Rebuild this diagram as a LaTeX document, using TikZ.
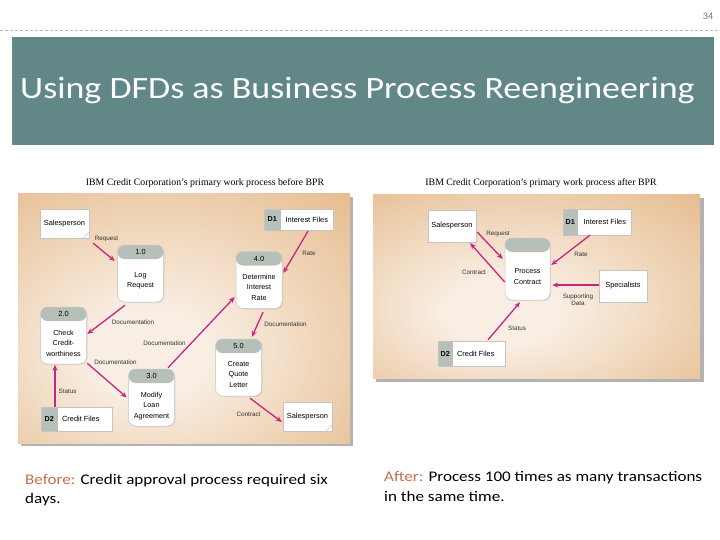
\documentclass[tikz,border=0pt]{standalone}
\usepackage{fontspec}
\setmainfont{Liberation Sans}
\newfontfamily\calib{Carlito}
\newfontfamily\serifcap{Liberation Serif}
\usetikzlibrary{arrows.meta,calc,shadows}
\definecolor{titlebg}{HTML}{618887}
\definecolor{flowc}{HTML}{C8267E}
\definecolor{hdr}{HTML}{B7C0B8}
\definecolor{pnlin}{HTML}{F9EEE3}
\definecolor{pnlout}{HTML}{E6BD90}
\definecolor{accent}{HTML}{C5704F}
\definecolor{dashc}{HTML}{A9BCC6}
\definecolor{edge}{HTML}{C4C4C4}
\pgfdeclareradialshading{panelshade}{\pgfpoint{-6bp}{-8bp}}{color(0bp)=(pnlin); color(9bp)=(pnlin); color(40bp)=(pnlout); color(75bp)=(pnlout)}
\tikzset{
  proc/.style={draw=edge, line width=0.5pt, fill=white, rounded corners=7pt,
    minimum width=46pt, minimum height=57pt, inner sep=0pt,
    drop shadow={opacity=0.18, shadow xshift=1pt, shadow yshift=-1pt},
    path picture={\fill[hdr] ([yshift=1pt]path picture bounding box.north west) rectangle ([yshift=-14pt]path picture bounding box.north east);}},
  entity/.style={draw=edge, line width=0.4pt, fill=white, minimum width=49pt, minimum height=29pt, inner sep=0pt,
    font=\fontsize{7.4}{8}\selectfont},
  store/.style={draw=edge, line width=0.4pt, fill=white, inner sep=0pt,
    path picture={\fill[hdr] (path picture bounding box.north west) rectangle ([xshift=#1]path picture bounding box.south west);}},
  storeid/.style={font=\bfseries\fontsize{7.2}{8}\selectfont, inner sep=0pt},
  storetxt/.style={font=\fontsize{7.4}{8}\selectfont, inner sep=0pt},
  hdrtxt/.style={font=\fontsize{7.4}{8}\selectfont, inner sep=0pt},
  bodytxt/.style={font=\fontsize{7.2}{10.5}\selectfont, align=center, inner sep=0pt},
  lbl/.style={font=\fontsize{6.3}{7.5}\selectfont, text=black!80, inner sep=0pt, align=center},
  flow/.style={draw=flowc, line width=1.3pt, -{Stealth[length=6pt,width=5pt]}},
  fold/.style={draw=black!30, line width=0.4pt},
  capt/.style={font=\calib\fontsize{14.7}{16}\selectfont, anchor=base west, inner sep=0pt},
  dcap/.style={font=\serifcap\fontsize{9.8}{11}\selectfont}
}
\begin{document}
\begin{tikzpicture}[x=1pt,y=-1pt]
\useasboundingbox (0,0) rectangle (720,540);
\fill[white] (0,0) rectangle (720,540);
% header
\node[font=\calib\fontsize{10}{12}\selectfont, text=black!55] (pg) at (708,16) {34};
\draw[dashc, line width=0.8pt, dash pattern=on 3pt off 2pt] (0,30) -- (720,30);
\fill[titlebg] (12,37) rectangle (714,145);
\node[anchor=base west, text=white, font=\calib\fontsize{31}{36}\selectfont, inner sep=0pt] (title) at (20,99) {\scalebox{1.16}[1]{Using DFDs as Business Process Reengineering}};

% ===== left panel =====
\node[dcap] (capb) at (205,183) {IBM Credit Corporation’s primary work process before BPR};
\fill[black!30] (21,197) rectangle (353,446);
\shade[shading=panelshade] (18,194) rectangle (350,443);

\node[entity] (s1) at (64.5,223.5) {Salesperson};
\draw[fold] ($(s1.south east)+(-6,0)$) -- ($(s1.south east)+(0,-6)$);
\node[store=17pt, minimum width=69pt, minimum height=21pt] (d1) at (298.5,219.5) {};
\node[storeid] (d1id) at ($(d1.west)+(8.5,0)$) {D1};
\node[storetxt] (d1t) at ($(d1.west)+(43,0)$) {Interest Files};

\node[proc] (p1) at (140.5,273.5) {};
\node[hdrtxt] (p1h) at ($(p1.north)+(0,7.5)$) {1.0};
\node[bodytxt] (p1b) at ($(p1.center)+(0,7.5)$) {Log\\Request};

\node[proc] (p4) at (259,280) {};
\node[hdrtxt] (p4h) at ($(p4.north)+(0,7.5)$) {4.0};
\node[bodytxt] (p4b) at ($(p4.center)+(0,7)$) {Determine\\Interest\\Rate};

\node[proc] (p2) at (63.5,335.5) {};
\node[hdrtxt] (p2h) at ($(p2.north)+(0,7.5)$) {2.0};
\node[bodytxt] (p2b) at ($(p2.center)+(0,7.5)$) {Check\\Credit-\\worthiness};

\node[proc] (p3) at (151.5,397.5) {};
\node[hdrtxt] (p3h) at ($(p3.north)+(0,7.5)$) {3.0};
\node[bodytxt] (p3b) at ($(p3.center)+(0,8.5)$) {Modify\\Loan\\Agreement};

\node[proc] (p5) at (238.5,367.5) {};
\node[hdrtxt] (p5h) at ($(p5.north)+(0,7.5)$) {5.0};
\node[bodytxt] (p5b) at ($(p5.center)+(0,7)$) {Create\\Quote\\Letter};

\node[entity] (s2) at (307.5,416.5) {Salesperson};
\draw[fold] ($(s2.south east)+(-6,0)$) -- ($(s2.south east)+(0,-6)$);
\node[store=17pt, minimum width=71pt, minimum height=24pt] (d2) at (76.5,419) {};
\node[storeid] (d2id) at ($(d2.west)+(8.5,0)$) {D2};
\node[storetxt] (d2t) at ($(d2.west)+(40,0)$) {Credit Files};

% left flows
\draw[flow] ($(s1.south east)+(4,5)$) -- ($(p1.west)+(-2.5,-12.5)$);
\node[lbl] (l1) at (106.5,239) {Request};
\draw[flow] ($(d1.south)+(9.5,1)$) -- ($(p4.east)+(1,-7)$);
\node[lbl] (l2) at (309,253) {Rate};
\draw[flow] ($(p1.south)+(-15.5,3)$) -- ($(p2.east)+(0.5,-1.5)$);
\node[lbl] (l3) at (133,322) {Documentation};
\draw[flow] ($(p2.south east)+(0.5,-1)$) -- ($(p3.west)+(-1.5,0)$);
\node[lbl] (l4) at (115.5,362) {Documentation};
\draw[flow] ($(p3.north)+(16.5,-1)$) -- ($(p4.west)+(-1,17)$);
\node[lbl] (l5) at (164.5,343) {Documentation};
\draw[flow] ($(p4.south)+(4,3.5)$) -- ($(p5.north)+(13.5,-2)$);
\node[lbl] (l6) at (285.5,324) {Documentation};
\draw[flow] ($(p5.south)+(11.5,2)$) -- ($(s2.west)+(-1,5.5)$);
\node[lbl] (l7) at (248.5,414) {Contract};
\draw[flow] ($(d2.north)+(-21.5,0)$) -- ($(p2.south)+(-8.5,0.5)$);
\node[lbl] (l8) at (67.5,391) {Status};

% ===== right panel =====
\node[dcap] (capa) at (541,183) {IBM Credit Corporation’s primary work process after BPR};
\fill[black!30] (376,198) rectangle (704,382);
\shade[shading=panelshade] (373,195) rectangle (700,378);

\node[entity, minimum width=48pt, minimum height=32pt] (rs) at (452,226) {Salesperson};
\node[store=15pt, minimum width=68pt, minimum height=26pt] (rd1) at (597,222) {};
\node[storeid] (rd1id) at ($(rd1.west)+(7.5,0)$) {D1};
\node[storetxt] (rd1t) at ($(rd1.west)+(42,0)$) {Interest Files};
\node[proc, minimum width=45pt, minimum height=62pt] (pc) at (527.5,269) {};
\node[bodytxt] (pcb) at ($(pc.center)+(0,7.5)$) {Process\\Contract};
\node[entity, minimum width=48pt, minimum height=32pt] (sp) at (623,286) {Specialists};
\node[store=15pt, minimum width=67pt, minimum height=25pt] (rd2) at (471.5,353.5) {};
\node[storeid] (rd2id) at ($(rd2.west)+(7.5,0)$) {D2};
\node[storetxt] (rd2t) at ($(rd2.west)+(38,0)$) {Credit Files};

\draw[flow] ($(rs.east)+(1,6)$) -- ($(pc.west)+(-2,-10)$);
\node[lbl] (r1) at (498,234) {Request};
\draw[flow] ($(pc.west)+(0,13)$) -- ($(rs.south east)+(-6,1)$);
\node[lbl] (r2) at (474,272) {Contract};
\draw[flow] ($(rd1.south)+(-7,0)$) -- ($(pc.east)+(1,-4)$);
\node[lbl] (r3) at (581,254) {Rate};
\draw[flow] ($(sp.west)+(0,-1)$) -- ($(pc.east)+(2,16)$);
\node[lbl] (r4) at (578,299.5) {Supporting\\Data};
\draw[flow] ($(rd2.north)+(16.5,-1)$) -- ($(pc.south)+(-7.5,2)$);
\node[lbl] (r5) at (517,328) {Status};

% captions
\node[capt] (cb1) at (25,484) {\scalebox{1.16}[1]{\textcolor{accent}{Before:} Credit approval process required six}};
\node[capt] (cb2) at (25,503.5) {\scalebox{1.16}[1]{days.}};
\node[capt] (ca1) at (384,481.5) {\scalebox{1.16}[1]{\textcolor{accent}{After:} Process 100 times as many transactions}};
\node[capt] (ca2) at (384,501) {\scalebox{1.16}[1]{in the same time.}};
\end{tikzpicture}
\end{document}
